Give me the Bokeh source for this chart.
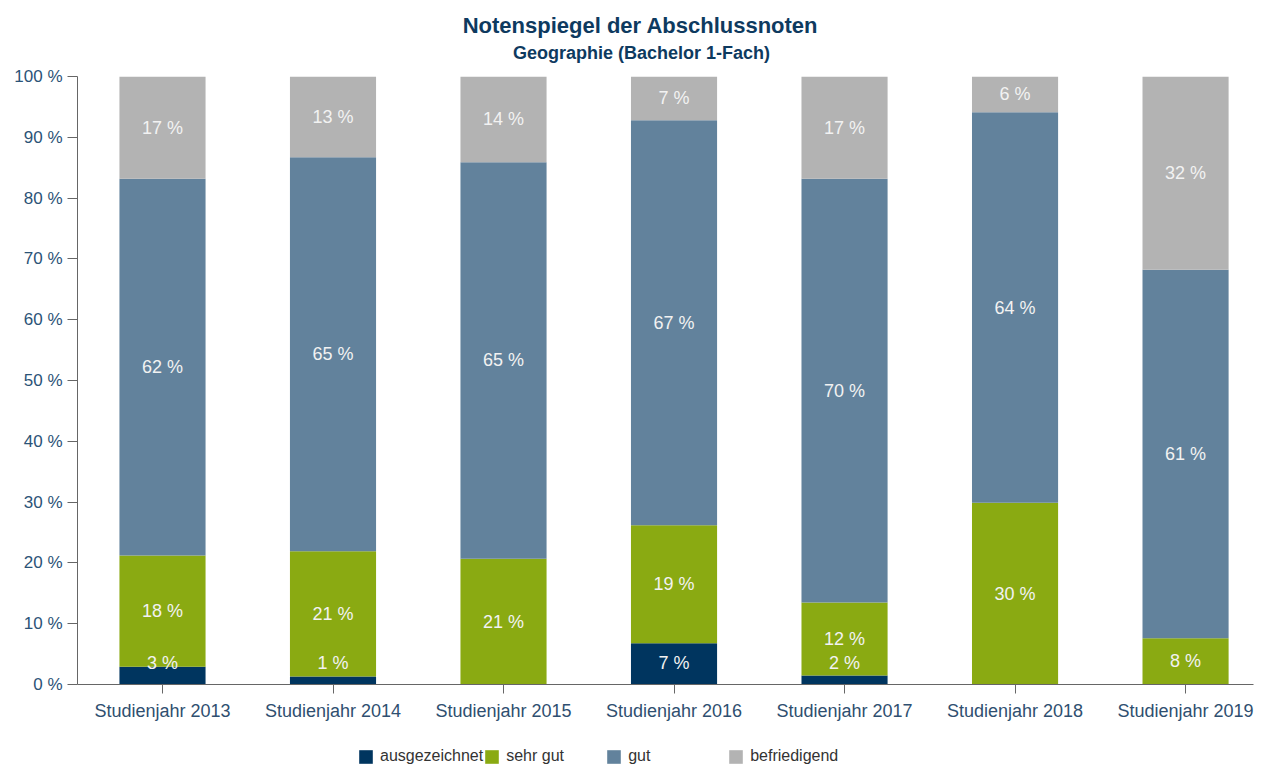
from bokeh.plotting import figure
from bokeh.layouts import column
from bokeh.models import (Range1d, FixedTicker, Legend, LegendItem, ColumnDataSource)
from bokeh.core.properties import value
from bokeh.embed import file_html
from bokeh.resources import INLINE

title_text = "Notenspiegel der Abschlussnoten"
subtitle_text = "Geographie (Bachelor 1-Fach)"
years = ["Studienjahr 2013", "Studienjahr 2014", "Studienjahr 2015", "Studienjahr 2016",
         "Studienjahr 2017", "Studienjahr 2018", "Studienjahr 2019"]
series = ["ausgezeichnet", "sehr gut", "gut", "befriedigend"]
ausgezeichnet = [2.9, 1.3, 0.0, 6.8, 1.5, 0.0, 0.0]
sehr_gut = [18.3, 20.6, 20.7, 19.4, 12.0, 29.9, 7.6]
gut = [62.0, 64.8, 65.2, 66.6, 69.7, 64.2, 60.6]
befriedigend = [16.8, 13.3, 14.1, 7.2, 16.8, 5.9, 31.8]
colors = ["#00355f", "#8aaa12", "#62829c", "#b3b3b3"]
y_ticks = list(range(0, 101, 10))

FONT = "Liberation Sans"
xs = list(range(len(years)))
data = {"x": xs, "ausgezeichnet": ausgezeichnet, "sehr gut": sehr_gut,
        "gut": gut, "befriedigend": befriedigend}
src = ColumnDataSource(data)

W = 1256
# ---- title strip (frame aligned with the chart frame: 77..1253 px) ----
t_fig = figure(width=W, height=64, output_backend="svg", toolbar_location=None,
               x_range=Range1d(77, 1253), y_range=Range1d(64, 0),
               x_axis_type=None, y_axis_type=None,
               min_border_left=0, min_border_right=0, min_border_top=0, min_border_bottom=0)
t_fig.outline_line_color = None
t_fig.text(x=[640], y=[24.5], text=[title_text], text_align="center", text_baseline="middle",
           text_color="#0e3a5f", text_font=value(FONT), text_font_size="22px",
           text_font_style="bold")
t_fig.text(x=[641], y=[52.5], text=[subtitle_text], text_align="center", text_baseline="middle",
           text_color="#0e3a5f", text_font=value(FONT), text_font_size="18px",
           text_font_style="bold")

# ---- main chart ----
p = figure(width=W, height=666, output_backend="svg", toolbar_location=None,
           x_range=Range1d(-0.4985, 6.3985), y_range=Range1d(0, 100),
           min_border_left=77, min_border_right=3, min_border_top=12, min_border_bottom=46,
           title=None)
p.outline_line_color = None
p.xgrid.visible = False
p.ygrid.visible = False

renderers = p.vbar_stack(series, x="x", width=0.505, color=colors, source=src, line_color=None)

lx, ly, lt = [], [], []
cols = [ausgezeichnet, sehr_gut, gut, befriedigend]
for i in xs:
    base = 0.0
    for c in cols:
        v = c[i]
        if v > 0:
            mid = max(base + v / 2, 3.5)
            lx.append(i)
            ly.append(mid)
            lt.append(f"{int(v + 0.5)} %")
        base += v
p.text(x=lx, y=ly, text=lt, text_align="center", text_baseline="middle",
       text_color="#f2f2f2", text_font=value(FONT), text_font_size="18px")

p.yaxis.ticker = FixedTicker(ticks=y_ticks)
p.yaxis.major_label_overrides = {t: f"{t} %" for t in y_ticks}
p.yaxis.major_tick_out = 10
p.yaxis.major_tick_in = 0
p.yaxis.minor_tick_line_color = None
p.yaxis.axis_line_color = "#666666"
p.yaxis.major_tick_line_color = "#666666"
p.yaxis.major_label_text_color = "#2b5377"
p.yaxis.major_label_text_font = FONT
p.yaxis.major_label_text_font_size = "17px"
p.yaxis.major_label_standoff = 5

p.xaxis.ticker = FixedTicker(ticks=xs)
p.xaxis.major_label_overrides = {i: y for i, y in enumerate(years)}
p.xaxis.major_tick_out = 9
p.xaxis.major_tick_in = 0
p.xaxis.minor_tick_line_color = None
p.xaxis.axis_line_color = "#666666"
p.xaxis.major_tick_line_color = "#666666"
p.xaxis.major_label_text_color = "#2f4f70"
p.xaxis.major_label_text_font = FONT
p.xaxis.major_label_text_font_size = "18px"
p.xaxis.major_label_standoff = 7

# ---- legend strip ----
lg_fig = figure(width=W, height=36, output_backend="svg", toolbar_location=None,
                x_range=Range1d(-0.5, 6.5), y_range=Range1d(0, 100),
                x_axis_type=None, y_axis_type=None,
                min_border_left=0, min_border_right=0, min_border_top=0, min_border_bottom=0)
lg_fig.outline_line_color = None
dummies = lg_fig.vbar_stack(series, x="x", width=0.5, color=colors, source=src,
                            line_color=None, visible=False)
legend = Legend(items=[LegendItem(label=n, renderers=[r]) for n, r in zip(series, dummies)],
                location=(280, 1), orientation="horizontal", padding=0, margin=0, spacing=0,
                glyph_width=17, glyph_height=17, label_standoff=6, label_width=99,
                label_height=13, inactive_fill_alpha=0,
                label_text_font=FONT, label_text_font_size="16px",
                label_text_color="#333333", border_line_alpha=0,
                background_fill_alpha=0)
lg_fig.add_layout(legend, "center")

layout = column(t_fig, p, lg_fig, spacing=0)
open("out.html", "w").write(file_html(layout, INLINE))
